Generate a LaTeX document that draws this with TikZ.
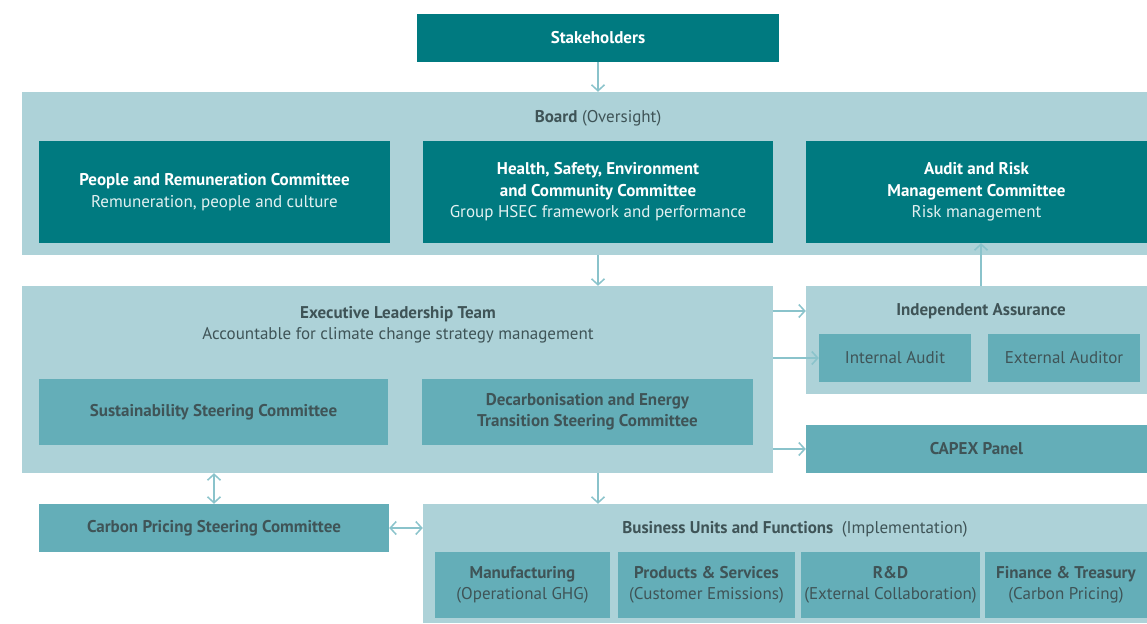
\documentclass[tikz,border=0pt]{standalone}
\usepackage{fontspec}
\setmainfont{PT Sans}
\usetikzlibrary{arrows.meta}

\definecolor{tealdark}{HTML}{007A80}
\definecolor{tealmid}{HTML}{64AEB8}
\definecolor{tealpale}{HTML}{ADD2D8}
\definecolor{inkdark}{HTML}{3F5457}
\definecolor{inklight}{HTML}{E3F1F2}
\definecolor{linkcol}{HTML}{8AC3CB}

\begin{document}
\begin{tikzpicture}[x=1pt, y=-1pt,
    every node/.style={font=\fontsize{17}{21.5}\selectfont, align=center, inner sep=0pt},
    panel/.style={rectangle, fill=tealpale},
    darkbox/.style={rectangle, fill=tealdark, text=white},
    midbox/.style={rectangle, fill=tealmid, text=inkdark},
    title/.style={text=inkdark},
    link/.style={draw=linkcol, line width=1.5pt, -{Straight Barb[length=6pt,width=13pt]}},
    twoway/.style={draw=linkcol, line width=1.5pt, {Straight Barb[length=6pt,width=13pt]}-{Straight Barb[length=6pt,width=13pt]}}]
    \useasboundingbox (0,0) rectangle (1147,623);

    % top level
    \node (stake) [darkbox, minimum width=362, minimum height=48] at (598,38) {\textbf{Stakeholders}};

    % board and its committees
    \node (board) [panel, minimum width=1125, minimum height=163] at (584.5,173.5) {};
    \node (boardlbl) [title] at (598,118) {\textbf{Board} (Oversight)};
    \node (people) [darkbox, minimum width=351, minimum height=102] at (214.5,192)
        {\textbf{People and Remuneration Committee}\\\textcolor{inklight}{Remuneration, people and culture}};
    \node (hsec) [darkbox, minimum width=350, minimum height=102] at (598,192)
        {\textbf{Health, Safety, Environment}\\\textbf{and Community Committee}\\\textcolor{inklight}{Group HSEC framework and performance}};
    \node (audit) [darkbox, minimum width=341, minimum height=102] at (976.5,192)
        {\textbf{Audit and Risk}\\\textbf{Management Committee}\\\textcolor{inklight}{Risk management}};

    % executive leadership team
    \node (elt) [panel, minimum width=751, minimum height=187] at (397.5,379.5) {};
    \node (eltlbl) [title] at (398,325)
        {\textbf{Executive Leadership Team}\\Accountable for climate change strategy management};
    \node (sustain) [midbox, minimum width=349, minimum height=66] at (213.5,412)
        {\textbf{Sustainability Steering Committee}};
    \node (decarb) [midbox, minimum width=331, minimum height=66] at (587.5,412)
        {\textbf{Decarbonisation and Energy}\\\textbf{Transition Steering Committee}};

    % assurance and capex
    \node (ia) [panel, minimum width=341, minimum height=108] at (976.5,340) {};
    \node (ialbl) [title] at (981,311) {\textbf{Independent Assurance}};
    \node (intaudit) [midbox, minimum width=152, minimum height=48] at (895,358) {Internal Audit};
    \node (extaudit) [midbox, minimum width=152, minimum height=48] at (1064,358) {External Auditor};
    \node (capex) [midbox, minimum width=341, minimum height=48] at (976.5,449) {\textbf{CAPEX Panel}};

    % carbon pricing and business units
    \node (carbon) [midbox, minimum width=350, minimum height=48] at (214,528)
        {\textbf{Carbon Pricing Steering Committee}};
    \node (bu) [panel, minimum width=724, minimum height=119] at (785,563.5) {};
    \node (bulbl) [title] at (795,529)
        {\textbf{Business Units and Functions}\enspace(Implementation)};
    \node (manuf) [midbox, minimum width=175, minimum height=66] at (522.5,585)
        {\textbf{Manufacturing}\\(Operational GHG)};
    \node (prod) [midbox, minimum width=177, minimum height=66] at (706.5,585)
        {\textbf{Products \& Services}\\(Customer Emissions)};
    \node (rnd) [midbox, minimum width=179, minimum height=66] at (890.5,585)
        {\textbf{R\&D}\\(External Collaboration)};
    \node (fin) [midbox, minimum width=162, minimum height=66] at (1066,585)
        {\textbf{Finance \& Treasury}\\(Carbon Pricing)};

    \draw[link] (stake.south) -- (stake.south |- board.north);
    \draw[link] (board.south -| stake) -- (elt.north -| stake);
    \draw[link] (elt.south -| stake) -- (bu.north -| stake);
    \draw[link] (elt.east |- ialbl) -- (ia.west |- ialbl);
    \draw[link] (elt.east |- intaudit) -- (intaudit.west);
    \draw[link] (elt.east |- capex) -- (capex.west);
    \draw[link] (ia.north -| ialbl) -- (audit.south -| ialbl);
    \draw[twoway] (carbon.north) -- (carbon.north |- elt.south);
    \draw[twoway] (carbon.east) -- (carbon.east -| bu.west);
\end{tikzpicture}
\end{document}
